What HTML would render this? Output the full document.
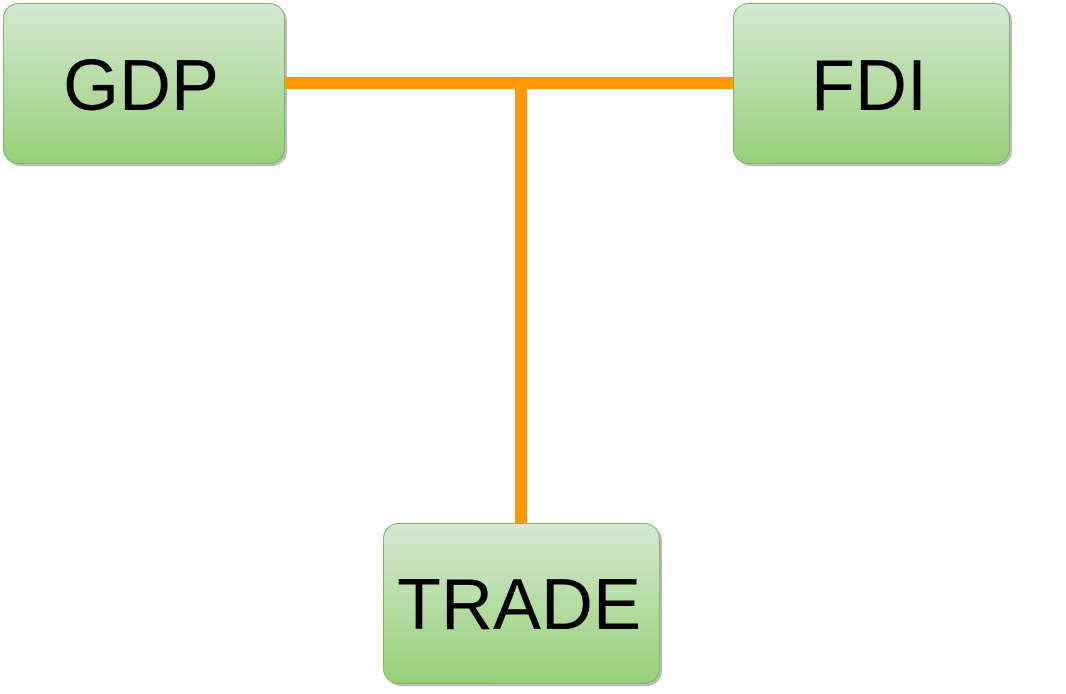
<!DOCTYPE html>
<html><head><style>html,body{margin:0;padding:0;background:#fff;overflow:hidden}</style></head>
<body>
<svg width="1066" height="689" xmlns="http://www.w3.org/2000/svg">
<defs>
<linearGradient id="g" x1="0" y1="0" x2="0" y2="1">
<stop offset="0" stop-color="#d5e8d4"/><stop offset="1" stop-color="#97d077"/>
</linearGradient>
</defs>
<g fill="#bdbdbd">
<rect x="6" y="6" width="281" height="160" rx="15"/>
<rect x="736" y="6" width="276" height="160" rx="15"/>
<rect x="386" y="526" width="276" height="160" rx="15"/>
</g>
<g fill="url(#g)" stroke="#82b366" stroke-width="1">
<rect x="3.5" y="3.5" width="281" height="160" rx="15"/>
<rect x="733.5" y="3.5" width="276" height="160" rx="15"/>
<rect x="383.5" y="523.5" width="276" height="160" rx="15"/>
</g>
<g fill="#ff9900">
<rect x="285" y="77" width="448" height="12"/>
<rect x="515" y="77" width="12" height="446"/>
</g>
<g font-family="Liberation Sans, sans-serif" font-size="72" text-anchor="middle" fill="#000">
<text x="141" y="110">GDP</text>
<text x="869" y="110">FDI</text>
<text x="519" y="629">TRADE</text>
</g>
</svg>
</body></html>
